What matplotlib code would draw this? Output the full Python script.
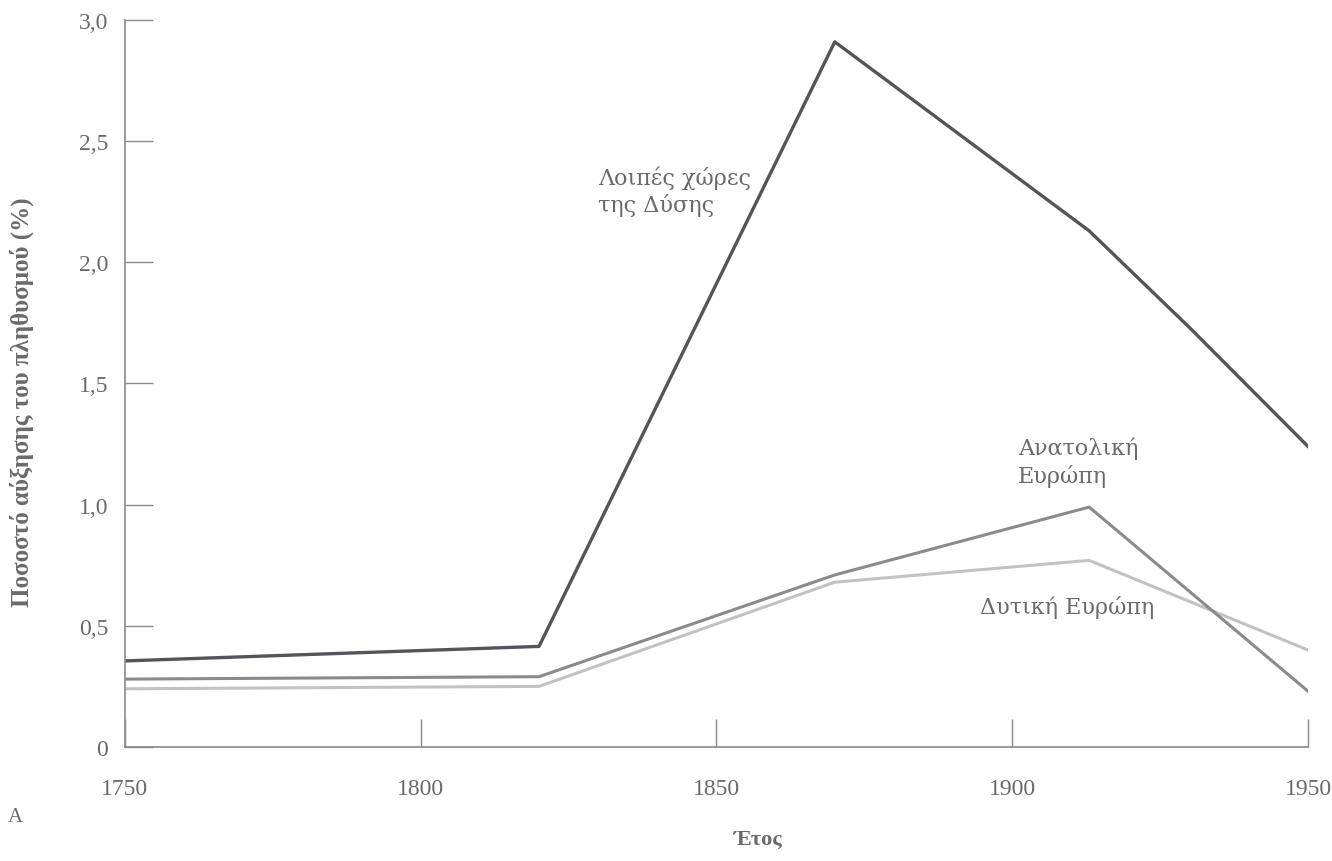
import numpy as np
import matplotlib.pyplot as plt

# population growth rate (%)
years_west_other = [1750, 1820, 1870, 1913, 1930, 1950]
rate_west_other = [0.355, 0.415, 2.91, 2.13, 1.73, 1.24]

years_europe = [1750, 1820, 1870, 1913, 1950]
rate_east = [0.28, 0.29, 0.71, 0.99, 0.23]
rate_west = [0.24, 0.25, 0.68, 0.77, 0.40]

xticks = [1750, 1800, 1850, 1900, 1950]
yticks = [0, 0.5, 1.0, 1.5, 2.0, 2.5, 3.0]
ytick_labels = ['0', '0,5', '1,0', '1,5', '2,0', '2,5', '3,0']

plt.rcParams['font.family'] = ['Liberation Serif', 'DejaVu Serif']
txt = '#6a6a6a'
note_font = ['DejaVu Serif']

fig = plt.figure(figsize=(13.32, 8.62), dpi=100)
ax = fig.add_axes([0.0938, 0.1323, 0.8882, 0.8433])

ax.plot(years_europe, rate_west, color='#c2c2c2', lw=2.2, solid_joinstyle='miter')
ax.plot(years_europe, rate_east, color='#8c8a8b', lw=2.2, solid_joinstyle='miter')
ax.plot(years_west_other, rate_west_other, color='#57535a', lw=2.4, solid_joinstyle='round')

ax.set_xlim(1750, 1950)
ax.set_ylim(0, 3.0)
for s in ['top', 'right']:
	ax.spines[s].set_visible(False)
for s in ['left', 'bottom']:
	ax.spines[s].set_color('#8a8a8a')
	ax.spines[s].set_linewidth(1.2)

ax.set_xticks(xticks)
ax.set_xticklabels([str(x) for x in xticks])
ax.set_yticks(yticks)
ax.set_yticklabels(ytick_labels)
ax.tick_params(axis='x', direction='in', length=20, width=1.0, color='#8a8a8a',
	pad=22, labelsize=17, labelcolor=txt)
ax.tick_params(axis='y', direction='in', length=20, width=1.0, color='#8a8a8a',
	pad=12, labelsize=17, labelcolor=txt)

ax.set_ylabel('Ποσοστό αύξησης του πληθυσμού (%)', fontsize=18, color=txt,
	fontweight='bold')
ax.yaxis.set_label_coords(-0.077, 0.475)
ax.set_xlabel('Έτος', fontsize=16, color=txt, fontweight='bold')
ax.xaxis.set_label_coords(0.535, -0.113)

fig.text(0.006, 0.046, 'A', fontsize=15, color=txt)

ax.text(1830, 2.40, 'Λοιπές χώρες\nτης Δύσης', fontsize=16, color=txt,
	family=note_font, va='top', ha='left', linespacing=1.25)
ax.text(1901, 1.28, 'Ανατολική\nΕυρώπη', fontsize=16, color=txt,
	family=note_font, va='top', ha='left', linespacing=1.25)
ax.text(1894.5, 0.58, 'Δυτική Ευρώπη', fontsize=16, color=txt,
	family=note_font, va='center', ha='left')

fig.savefig('out.png', dpi=100)
